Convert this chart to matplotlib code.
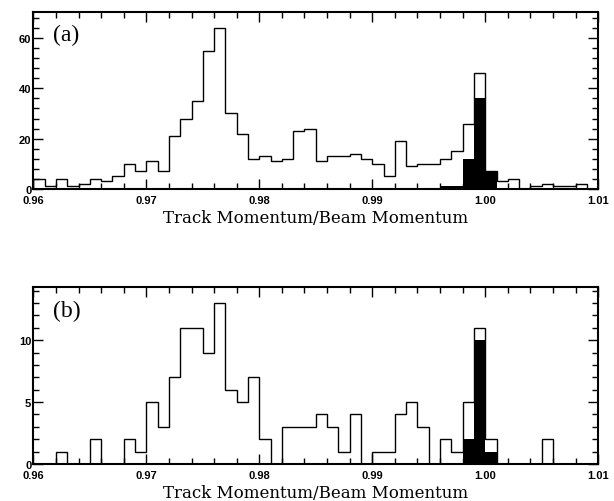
import numpy as np
import matplotlib.pyplot as plt
from matplotlib.ticker import MultipleLocator, FormatStrFormatter

# bin edges: 50 bins of 0.001 from 0.96 to 1.01
edges = np.round(np.linspace(0.96, 1.01, 51), 4)

# (a) all tracks / selected tracks (filled)
counts_a = [4, 1, 4, 1, 2, 4, 3, 5, 10, 7,
            11, 7, 21, 28, 35, 55, 64, 30, 22, 12,
            13, 11, 12, 23, 24, 11, 13, 13, 14, 12,
            10, 5, 19, 9, 10, 10, 12, 15, 26, 46,
            7, 3, 4, 0, 1, 2, 1, 1, 2, 0]
filled_a = [0] * 36 + [1, 1, 12, 36, 7] + [0] * 9

# (b)
counts_b = [0, 0, 1, 0, 0, 2, 0, 0, 2, 1,
            5, 3, 7, 11, 11, 9, 13, 6, 5, 7,
            2, 0, 3, 3, 3, 4, 3, 1, 4, 0,
            1, 1, 4, 5, 3, 0, 2, 1, 5, 11,
            2, 0, 0, 0, 0, 2, 0, 0, 0, 0]
filled_b = [0] * 38 + [2, 10, 1] + [0] * 9

panels = [
    ("(a)", counts_a, filled_a, 20, 4),
    ("(b)", counts_b, filled_b, 5, 1),
]
positions = [[0.0543, 0.6215, 0.92, 0.353],
             [0.0543, 0.0737, 0.92, 0.3526]]

fig = plt.figure(figsize=(6.14, 5.02), dpi=100)

for (tag, counts, filled, major, minor), pos in zip(panels, positions):
    ax = fig.add_axes(pos)
    ax.stairs(filled, edges, fill=True, color="black", linewidth=0)
    ax.stairs(counts, edges, color="black", linewidth=1.0)
    ax.set_xlim(0.96, 1.01)
    ax.set_ylim(0, max(counts) * 1.1)

    ax.xaxis.set_major_locator(MultipleLocator(0.01))
    ax.xaxis.set_minor_locator(MultipleLocator(0.002))
    ax.xaxis.set_major_formatter(FormatStrFormatter("%.2f"))
    ax.yaxis.set_major_locator(MultipleLocator(major))
    ax.yaxis.set_minor_locator(MultipleLocator(minor))
    ax.tick_params(which="both", direction="in", top=True, right=True,
                   width=1.0, labelsize=8)
    ax.tick_params(axis="x", which="major", length=7, pad=4)
    ax.tick_params(axis="y", which="major", length=7, pad=1.5)
    ax.tick_params(which="minor", length=4)
    for lbl in ax.get_xticklabels() + ax.get_yticklabels():
        lbl.set_family("Liberation Sans")
        lbl.set_fontweight("bold")
    for sp in ax.spines.values():
        sp.set_linewidth(1.5)

    ax.text(0.035, 0.93, tag, transform=ax.transAxes, ha="left", va="top",
            fontsize=17, family="Liberation Serif")
    ax.set_xlabel("Track Momentum/Beam Momentum", family="DejaVu Serif",
                  fontsize=12, labelpad=3)

fig.savefig("out.png", dpi=100)
